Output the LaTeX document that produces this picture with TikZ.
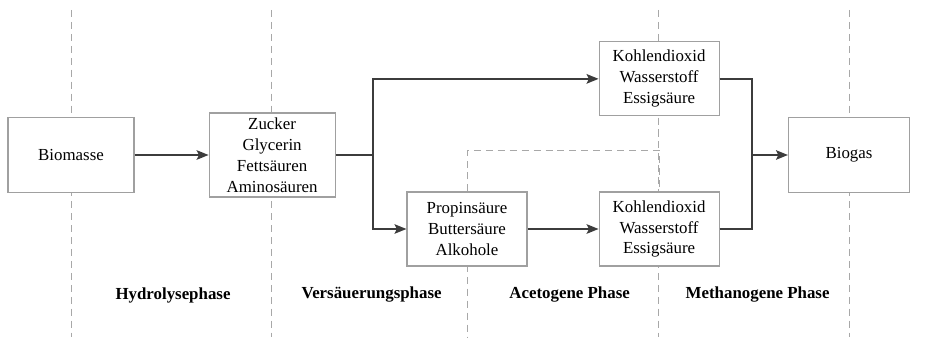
\documentclass[tikz,border=0pt]{standalone}
\usepackage{fontspec}
\setmainfont{Liberation Serif}
\usepackage{tikz}
\usetikzlibrary{positioning,arrows.meta}
\definecolor{boxgray}{HTML}{A0A0A0}
\definecolor{linegray}{HTML}{3C3C3C}
\definecolor{dashgray}{HTML}{A8A8A8}
\tikzset{
  block/.style = {rectangle, minimum width=3.15cm, minimum height=1.875cm,
                  draw=boxgray, line width=0.8pt, fill=white, align=center,
                  inner sep=2pt, font=\fontsize{12}{14.9}\selectfont},
  subblock/.style = {block, minimum width=3cm, minimum height=1.85cm},
  arrow/.style = {line width=1.2pt, draw=linegray, -{Stealth[length=3mm,width=2.4mm,inset=0.6mm]}},
  link/.style = {line width=1.2pt, draw=linegray},
  phase/.style = {draw=dashgray, line width=0.7pt, dash pattern=on 5pt off 3.5pt},
  phaselabel/.style = {font=\fontsize{12}{14}\selectfont\bfseries}
}

\begin{document}
\begin{tikzpicture}

\useasboundingbox (0,0) rectangle (23.2,8.425);

\foreach \x in {1.775,6.775,16.45,21.225}
  \draw[phase] (\x,8.175) -- (\x,0);
\draw[phase] (11.675,2.7) -- (11.675,0);

\node (bio)     [block] at (1.775,4.55) {Biomasse};
\node (zucker)  [block, minimum height=2.1cm, right=1.85cm of bio]
                {Zucker\\Glycerin\\Fettsäuren\\Aminosäuren};
\node (prop)    [subblock] at (11.675,2.7) {Propinsäure\\Buttersäure\\Alkohole};
\node (kbot)    [subblock, right=1.775cm of prop] {Kohlendioxid\\Wasserstoff\\Essigsäure};
\node (ktop)    [subblock, above=1.875cm of kbot] {Kohlendioxid\\Wasserstoff\\Essigsäure};
\node (biogas)  [block, minimum width=3.025cm] at (21.225,4.55) {Biogas};

\coordinate [right=0.925cm of zucker.east] (split);
\coordinate [left=0.9cm of biogas.west] (join);

\draw[arrow] (bio) -- (zucker);
\draw[link]  (zucker) -- (split);
\draw[arrow] (split) |- (ktop);
\draw[arrow] (split) |- (prop);
\draw[arrow] (prop) -- (kbot);
\draw[link]  (ktop) -| (join);
\draw[link]  (kbot) -| (join);
\draw[arrow] (join) -- (biogas);
\draw[phase] (prop.north) -- ++(0,1.025) -| (kbot.north);

\node (hyd) [phaselabel] at (4.325,1.05)  {Hydrolysephase};
\node (ver) [phaselabel] at (9.29,1.05)   {Versäuerungsphase};
\node (ace) [phaselabel] at (14.24,1.05)  {Acetogene Phase};
\node (met) [phaselabel] at (18.94,1.05)  {Methanogene Phase};

\end{tikzpicture}
\end{document}
